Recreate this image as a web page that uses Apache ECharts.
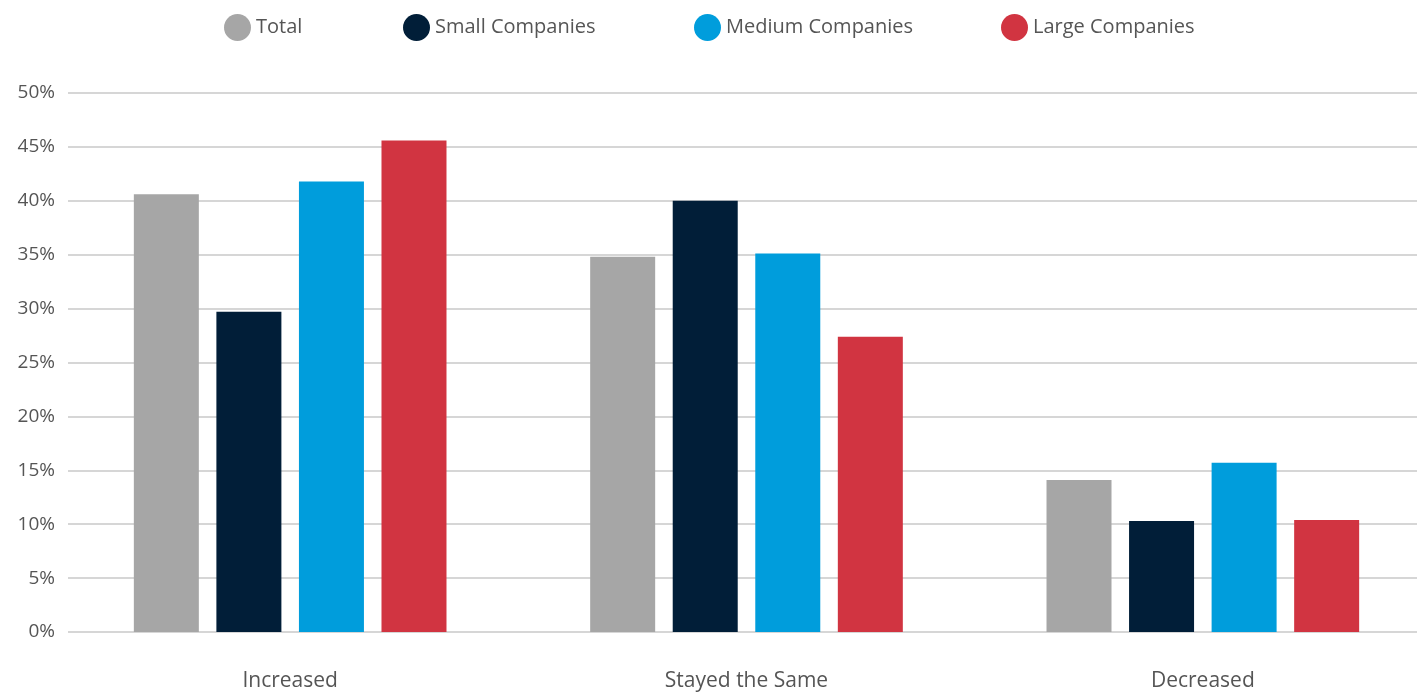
<!DOCTYPE html>
<html>
<head>
<meta charset="utf-8">
<script src="https://cdn.jsdelivr.net/npm/echarts@6/dist/echarts.min.js"></script>
<style>
  html, body { margin: 0; padding: 0; background: #fff; }
  #chart { width: 1417px; height: 692px; }
</style>
</head>
<body>
<div id="chart"></div>
<script>
// Change in headcount by company size (share of respondents)
const categories = ['Increased', 'Stayed the Same', 'Decreased'];
const seriesNames = ['Total', 'Small Companies', 'Medium Companies', 'Large Companies'];
const totalValues = [40.6, 34.8, 14.1];
const smallValues = [29.7, 40.0, 10.3];
const mediumValues = [41.8, 35.1, 15.7];
const largeValues = [45.6, 27.4, 10.4];
const yTicks = { min: 0, max: 50, interval: 5 };

const colors = ['#a6a6a6', '#011e38', '#009ddc', '#d13441'];
const valuesBySeries = [totalValues, smallValues, mediumValues, largeValues];
const legendLefts = [224, 403, 694, 1001];
const font = '"Open Sans", "Liberation Sans", sans-serif';

const chart = echarts.init(document.getElementById('chart'), null, { renderer: 'canvas' });

chart.setOption({
  animation: false,
  color: colors,
  legend: seriesNames.map((name, i) => ({
    data: [name],
    left: legendLefts[i],
    top: 14,
    padding: 0,
    icon: 'circle',
    itemWidth: 27,
    itemHeight: 27,
    textStyle: { fontFamily: font, fontSize: 20, color: '#555' }
  })),
  grid: [
    // grid carrying the value scale and its gridlines
    { left: 68, right: 0, top: 93, bottom: 60, outerBoundsMode: 'none' },
    // grid carrying the bars and category labels
    { left: 62, width: 1369, top: 93, bottom: 60, outerBoundsMode: 'none' }
  ],
  xAxis: [
    { gridIndex: 0, type: 'value', min: 0, max: 1, show: false },
    {
      gridIndex: 1,
      type: 'category',
      data: categories,
      axisLine: { show: false },
      axisTick: { show: false },
      axisLabel: { margin: 39, fontFamily: font, fontSize: 21, color: '#555' }
    }
  ],
  yAxis: [
    {
      gridIndex: 0,
      type: 'value',
      min: yTicks.min,
      max: yTicks.max,
      interval: yTicks.interval,
      axisLine: { show: false },
      axisTick: { show: false },
      axisLabel: {
        formatter: '{value}%',
        margin: 13,
        fontFamily: font,
        fontSize: 19,
        color: '#555'
      },
      splitLine: { lineStyle: { color: '#c8c8c8', width: 1.5 } }
    },
    {
      gridIndex: 1,
      type: 'value',
      min: yTicks.min,
      max: yTicks.max,
      interval: yTicks.interval,
      show: false,
      splitLine: { show: false }
    }
  ],
  series: seriesNames.map((name, i) => ({
    name: name,
    type: 'bar',
    xAxisIndex: 1,
    yAxisIndex: 1,
    barWidth: 65,
    barGap: '27%',
    data: valuesBySeries[i],
    itemStyle: { color: colors[i] }
  }))
});
</script>
</body>
</html>
